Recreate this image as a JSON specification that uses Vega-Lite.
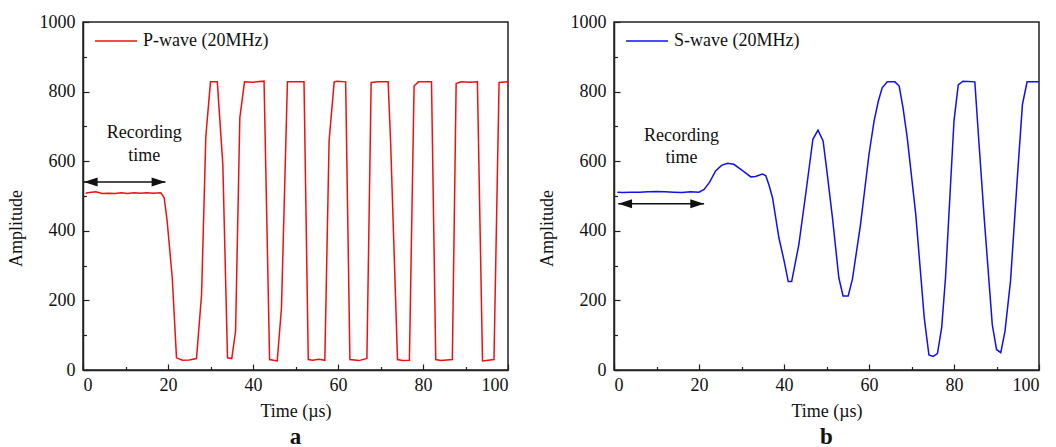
{
  "$schema": "https://vega.github.io/schema/vega-lite/v6.json",
  "background": "white",
  "padding": {"left": 6, "top": 12, "right": 5, "bottom": 5},
  "config": {
    "font": "Liberation Serif",
    "view": {"stroke": "#222222", "strokeWidth": 1.5},
    "axis": {"grid": false, "domainColor": "#222222", "domainWidth": 1.5, "tickColor": "#222222", "tickWidth": 1.2,
      "labelFont": "Liberation Serif", "labelFontSize": 18, "labelColor": "#111111",
      "titleFont": "Liberation Serif", "titleFontSize": 18, "titleFontWeight": "normal", "titleColor": "#111111"},
    "legend": {"labelFont": "Liberation Serif", "labelFontSize": 18, "labelColor": "#111111"},
    "title": {"font": "Liberation Serif", "fontSize": 23, "fontWeight": "bold", "color": "#111111"}
  },
  "datasets": {
    "pwave": [
      {"t": 0.6, "a": 508}, {"t": 1.5, "a": 510}, {"t": 3, "a": 512}, {"t": 4.5, "a": 507}, {"t": 6, "a": 508},
      {"t": 7.5, "a": 507}, {"t": 9, "a": 509}, {"t": 10.5, "a": 507}, {"t": 12, "a": 509}, {"t": 13.5, "a": 508},
      {"t": 15, "a": 509}, {"t": 16.5, "a": 508}, {"t": 18.3, "a": 509}, {"t": 19.1, "a": 495}, {"t": 19.8, "a": 428},
      {"t": 21.0, "a": 265}, {"t": 22.0, "a": 35}, {"t": 23.4, "a": 28}, {"t": 25, "a": 29}, {"t": 26.7, "a": 33},
      {"t": 27.9, "a": 217}, {"t": 28.9, "a": 672}, {"t": 30.0, "a": 828}, {"t": 31.6, "a": 828}, {"t": 32.9, "a": 591},
      {"t": 34.0, "a": 35}, {"t": 35.0, "a": 33}, {"t": 35.9, "a": 112}, {"t": 36.9, "a": 725}, {"t": 38.0, "a": 828},
      {"t": 40, "a": 827}, {"t": 42.6, "a": 830}, {"t": 43.9, "a": 30}, {"t": 45.7, "a": 26}, {"t": 46.7, "a": 179},
      {"t": 48.1, "a": 828}, {"t": 50, "a": 828}, {"t": 52.0, "a": 828}, {"t": 53.0, "a": 30}, {"t": 54.0, "a": 28},
      {"t": 55.5, "a": 31}, {"t": 56.9, "a": 28}, {"t": 57.9, "a": 658}, {"t": 59.1, "a": 828}, {"t": 59.8, "a": 830},
      {"t": 61.8, "a": 828}, {"t": 62.8, "a": 30}, {"t": 64.9, "a": 27}, {"t": 66.8, "a": 33}, {"t": 67.8, "a": 826},
      {"t": 69.5, "a": 828}, {"t": 71.8, "a": 828}, {"t": 72.4, "a": 648}, {"t": 74.0, "a": 30}, {"t": 75.1, "a": 27},
      {"t": 76.8, "a": 28}, {"t": 77.9, "a": 816}, {"t": 78.9, "a": 828}, {"t": 82.0, "a": 828}, {"t": 83.0, "a": 30},
      {"t": 84.2, "a": 27}, {"t": 86.9, "a": 30}, {"t": 87.8, "a": 823}, {"t": 89, "a": 828}, {"t": 91, "a": 827},
      {"t": 92.8, "a": 828}, {"t": 94.0, "a": 26}, {"t": 96.7, "a": 30}, {"t": 97.9, "a": 826}, {"t": 100, "a": 828}
    ],
    "swave": [
      {"t": 0.8, "a": 511}, {"t": 2, "a": 510}, {"t": 4, "a": 511}, {"t": 6, "a": 511}, {"t": 8, "a": 512},
      {"t": 10, "a": 513}, {"t": 12, "a": 512}, {"t": 14, "a": 511}, {"t": 16, "a": 510}, {"t": 18, "a": 512},
      {"t": 20, "a": 511}, {"t": 21.2, "a": 519}, {"t": 22.5, "a": 540}, {"t": 23.9, "a": 572}, {"t": 25.3, "a": 588},
      {"t": 26.7, "a": 594}, {"t": 28.2, "a": 591}, {"t": 30, "a": 575}, {"t": 32.2, "a": 555}, {"t": 33.3, "a": 556},
      {"t": 34.9, "a": 563}, {"t": 35.7, "a": 559}, {"t": 36.5, "a": 530}, {"t": 37.3, "a": 495}, {"t": 38.8, "a": 380},
      {"t": 40, "a": 315}, {"t": 41.0, "a": 254}, {"t": 41.8, "a": 254}, {"t": 43.5, "a": 361}, {"t": 45.1, "a": 505},
      {"t": 46.8, "a": 663}, {"t": 48.0, "a": 689}, {"t": 49.2, "a": 658}, {"t": 50.0, "a": 581}, {"t": 51.4, "a": 438},
      {"t": 52.9, "a": 265}, {"t": 53.9, "a": 213}, {"t": 55.1, "a": 213}, {"t": 56.1, "a": 261}, {"t": 58.0, "a": 418},
      {"t": 60.0, "a": 620}, {"t": 61.2, "a": 716}, {"t": 62.2, "a": 773}, {"t": 63.1, "a": 811}, {"t": 64.3, "a": 828},
      {"t": 66.1, "a": 828}, {"t": 67.1, "a": 816}, {"t": 68.0, "a": 754}, {"t": 69.0, "a": 667}, {"t": 71.0, "a": 447},
      {"t": 73.0, "a": 150}, {"t": 74.1, "a": 43}, {"t": 75.1, "a": 39}, {"t": 76.1, "a": 47}, {"t": 77.1, "a": 122},
      {"t": 78.0, "a": 265}, {"t": 80.0, "a": 716}, {"t": 81.0, "a": 819}, {"t": 82.1, "a": 830}, {"t": 84.9, "a": 828},
      {"t": 85.9, "a": 648}, {"t": 87.1, "a": 438}, {"t": 89.0, "a": 131}, {"t": 90.0, "a": 59}, {"t": 91.0, "a": 50},
      {"t": 92.0, "a": 112}, {"t": 93.3, "a": 256}, {"t": 94.9, "a": 552}, {"t": 96.1, "a": 763}, {"t": 97.2, "a": 828},
      {"t": 100, "a": 828}
    ],
    "pannot": [{"x1": 0.2, "x2": 19.4, "y": 540}],
    "ptext": [{"t": 14.4, "a": 682, "label": "Recording"}, {"t": 14.4, "a": 615, "label": "time"}],
    "sannot": [{"x1": 1.0, "x2": 21.2, "y": 478}],
    "stext": [{"t": 15.9, "a": 672, "label": "Recording"}, {"t": 15.9, "a": 610, "label": "time"}]
  },
  "bounds": "flush",
  "spacing": 106,
  "resolve": {"scale": {"color": "independent"}, "legend": {"color": "independent"}},
  "hconcat": [
    {
      "width": 425, "height": 348,
      "title": {"text": "a", "orient": "bottom", "offset": 6},
      "resolve": {"axis": {"x": "independent", "y": "independent"}},
      "layer": [
        {
          "data": {"name": "pwave"},
          "mark": {"type": "line", "strokeWidth": 1.5},
          "encoding": {
            "x": {"field": "t", "type": "quantitative", "scale": {"domain": [0, 100], "nice": false},
              "axis": {"title": "Time (µs)", "values": [0, 20, 40, 60, 80, 100], "format": "d", "tickSize": -6, "labelPadding": 12, "titlePadding": 8}},
            "y": {"field": "a", "type": "quantitative", "scale": {"domain": [0, 1000], "nice": false},
              "axis": {"title": "Amplitude", "values": [0, 200, 400, 600, 800, 1000], "format": "d", "tickSize": -6, "labelPadding": 14, "titleY": 206, "titleX": -58}},
            "color": {"datum": "P-wave (20MHz)", "type": "nominal", "scale": {"domain": ["P-wave (20MHz)"], "range": ["#f01010"]},
              "legend": {"title": null, "orient": "none", "legendX": 11, "legendY": -3, "symbolType": "stroke", "symbolSize": 1764, "symbolStrokeWidth": 1.5, "labelOffset": 5, "padding": 0}}
          }
        },
        {
          "data": {"name": "pwave"},
          "mark": {"type": "point", "opacity": 0},
          "encoding": {
            "x": {"field": "t", "type": "quantitative", "axis": {"orient": "bottom", "title": null, "labels": false, "domain": false, "values": [10, 30, 50, 70, 90], "tickSize": -3.5}},
            "y": {"field": "a", "type": "quantitative", "axis": {"orient": "left", "title": null, "labels": false, "domain": false, "values": [100, 300, 500, 700, 900], "tickSize": -3.5}}
          }
        },
        {
          "data": {"name": "pannot"},
          "mark": {"type": "rule", "color": "#111111", "strokeWidth": 1.5},
          "encoding": {
            "x": {"field": "x1", "type": "quantitative", "axis": null},
            "x2": {"field": "x2"},
            "y": {"field": "y", "type": "quantitative", "axis": null}
          }
        },
        {
          "data": {"name": "pannot"},
          "mark": {"type": "point", "filled": true, "color": "#111111", "opacity": 1, "size": 144, "shape": "M0,0L2.3,-0.75L2.3,0.75Z"},
          "encoding": {
            "x": {"field": "x1", "type": "quantitative", "axis": null},
            "y": {"field": "y", "type": "quantitative", "axis": null}
          }
        },
        {
          "data": {"name": "pannot"},
          "mark": {"type": "point", "filled": true, "color": "#111111", "opacity": 1, "size": 144, "shape": "M0,0L-2.3,-0.75L-2.3,0.75Z"},
          "encoding": {
            "x": {"field": "x2", "type": "quantitative", "axis": null},
            "y": {"field": "y", "type": "quantitative", "axis": null}
          }
        },
        {
          "data": {"name": "ptext"},
          "mark": {"type": "text", "fontSize": 18, "font": "Liberation Serif", "color": "#111111", "baseline": "middle"},
          "encoding": {
            "x": {"field": "t", "type": "quantitative", "axis": null},
            "y": {"field": "a", "type": "quantitative", "axis": null},
            "text": {"field": "label"}
          }
        }
      ]
    },
    {
      "width": 425, "height": 348,
      "title": {"text": "b", "orient": "bottom", "offset": 6},
      "resolve": {"axis": {"x": "independent", "y": "independent"}},
      "layer": [
        {
          "data": {"name": "swave"},
          "mark": {"type": "line", "strokeWidth": 1.5},
          "encoding": {
            "x": {"field": "t", "type": "quantitative", "scale": {"domain": [0, 100], "nice": false},
              "axis": {"title": "Time (µs)", "values": [0, 20, 40, 60, 80, 100], "format": "d", "tickSize": -6, "labelPadding": 12, "titlePadding": 8}},
            "y": {"field": "a", "type": "quantitative", "scale": {"domain": [0, 1000], "nice": false},
              "axis": {"title": "Amplitude", "values": [0, 200, 400, 600, 800, 1000], "format": "d", "tickSize": -6, "labelPadding": 14, "titleY": 206, "titleX": -58}},
            "color": {"datum": "S-wave (20MHz)", "type": "nominal", "scale": {"domain": ["S-wave (20MHz)"], "range": ["#1010f0"]},
              "legend": {"title": null, "orient": "none", "legendX": 11, "legendY": -3, "symbolType": "stroke", "symbolSize": 1764, "symbolStrokeWidth": 1.5, "labelOffset": 5, "padding": 0}}
          }
        },
        {
          "data": {"name": "swave"},
          "mark": {"type": "point", "opacity": 0},
          "encoding": {
            "x": {"field": "t", "type": "quantitative", "axis": {"orient": "bottom", "title": null, "labels": false, "domain": false, "values": [10, 30, 50, 70, 90], "tickSize": -3.5}},
            "y": {"field": "a", "type": "quantitative", "axis": {"orient": "left", "title": null, "labels": false, "domain": false, "values": [100, 300, 500, 700, 900], "tickSize": -3.5}}
          }
        },
        {
          "data": {"name": "sannot"},
          "mark": {"type": "rule", "color": "#111111", "strokeWidth": 1.5},
          "encoding": {
            "x": {"field": "x1", "type": "quantitative", "axis": null},
            "x2": {"field": "x2"},
            "y": {"field": "y", "type": "quantitative", "axis": null}
          }
        },
        {
          "data": {"name": "sannot"},
          "mark": {"type": "point", "filled": true, "color": "#111111", "opacity": 1, "size": 144, "shape": "M0,0L2.3,-0.75L2.3,0.75Z"},
          "encoding": {
            "x": {"field": "x1", "type": "quantitative", "axis": null},
            "y": {"field": "y", "type": "quantitative", "axis": null}
          }
        },
        {
          "data": {"name": "sannot"},
          "mark": {"type": "point", "filled": true, "color": "#111111", "opacity": 1, "size": 144, "shape": "M0,0L-2.3,-0.75L-2.3,0.75Z"},
          "encoding": {
            "x": {"field": "x2", "type": "quantitative", "axis": null},
            "y": {"field": "y", "type": "quantitative", "axis": null}
          }
        },
        {
          "data": {"name": "stext"},
          "mark": {"type": "text", "fontSize": 18, "font": "Liberation Serif", "color": "#111111", "baseline": "middle"},
          "encoding": {
            "x": {"field": "t", "type": "quantitative", "axis": null},
            "y": {"field": "a", "type": "quantitative", "axis": null},
            "text": {"field": "label"}
          }
        }
      ]
    }
  ]
}
